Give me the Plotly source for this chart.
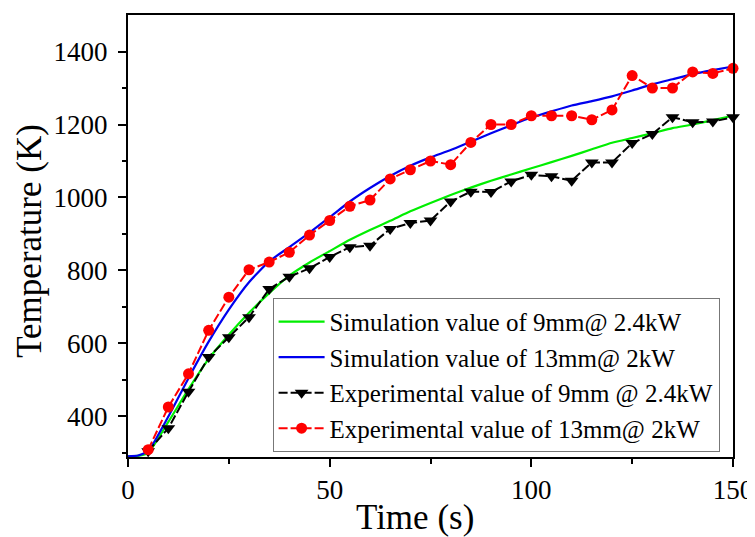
import plotly.graph_objects as go

# Simulation curves
sim_t = [0, 2.5, 5, 10, 15, 20, 25, 30, 35, 40, 45, 50, 55, 60, 65, 70, 75, 80, 85, 90,
         95, 100, 105, 110, 115, 120, 125, 130, 135, 140, 145, 150]
sim_9mm = [291, 292, 300, 385, 475, 558, 624, 684, 738, 786, 822, 853, 884, 911, 936, 962,
           985, 1007, 1027, 1046, 1063, 1080, 1097, 1114, 1132, 1150, 1163, 1176, 1190, 1200, 1212, 1224]
sim_13mm = [291, 293, 305, 400, 505, 605, 693, 768, 825, 864, 904, 946, 989, 1026, 1059, 1087,
            1110, 1130, 1153, 1176, 1198, 1219, 1236, 1252, 1264, 1277, 1293, 1310, 1324, 1338, 1349, 1359]

# Experimental values
exp_t = [5, 10, 15, 20, 25, 30, 35, 40, 45, 50, 55, 60, 65, 70, 75, 80, 85, 90, 95, 100,
         105, 110, 115, 120, 125, 130, 135, 140, 145, 150]
exp_9mm = [305, 368, 468, 563, 617, 672, 749, 783, 806, 837, 864, 868, 914, 930, 937, 989,
           1016, 1015, 1044, 1062, 1058, 1046, 1096, 1096, 1149, 1174, 1220, 1206, 1208, 1220]
exp_13mm = [309, 426, 517, 636, 727, 802, 823, 850, 897, 937, 976, 993, 1051, 1076, 1100, 1090,
            1151, 1200, 1200, 1224, 1224, 1224, 1213, 1240, 1334, 1300, 1300, 1344, 1340, 1354]

names = ["Simulation value of 9mm@ 2.4kW", "Simulation value of 13mm@ 2kW",
         "Experimental value of 9mm @ 2.4kW", "Experimental value of 13mm@ 2kW"]
x_title = "Time (s)"
y_title = "Temperature (K)"

font = "Liberation Serif, Times New Roman, serif"

fig = go.Figure()
fig.add_trace(go.Scatter(x=sim_t, y=sim_9mm, mode="lines", name=names[0],
                         line=dict(color="#00ee00", width=2.2, shape="spline", smoothing=0.5)))
fig.add_trace(go.Scatter(x=sim_t, y=sim_13mm, mode="lines", name=names[1],
                         line=dict(color="#0000ee", width=2.2, shape="spline", smoothing=0.5)))
fig.add_trace(go.Scatter(x=exp_t, y=exp_9mm, mode="lines+markers", name=names[2],
                         line=dict(color="black", width=2, dash="9px,3px"),
                         marker=dict(symbol="triangle-down", size=12, color="black"),
                         cliponaxis=False))
fig.add_trace(go.Scatter(x=exp_t, y=exp_13mm, mode="lines+markers", name=names[3],
                         line=dict(color="#ff0000", width=2, dash="9px,3px"),
                         marker=dict(symbol="circle", size=11, color="#ff0000"),
                         cliponaxis=False))

axis_common = dict(showline=True, linecolor="black", linewidth=2, mirror=True,
                   ticks="outside", ticklen=8, tickwidth=2, tickcolor="black",
                   showgrid=False, zeroline=False, automargin=False,
                   tickfont=dict(family=font, size=27, color="black"))

fig.update_xaxes(range=[0, 150], tickvals=[0, 50, 100, 150],
                 minor=dict(tickvals=[25, 75, 125], ticks="outside", ticklen=5, tickwidth=2, tickcolor="black"),
                 ticklabelstandoff=0,
                 **axis_common)
fig.update_yaxes(range=[289, 1500], tickvals=[400, 600, 800, 1000, 1200, 1400],
                 minor=dict(tickvals=[300, 500, 700, 900, 1100, 1300], ticks="outside", ticklen=4,
                            tickwidth=2, tickcolor="black"),
                 ticklabelstandoff=5,
                 **axis_common)

fig.add_annotation(text=x_title, xref="paper", yref="paper", x=0.474, y=-0.138,
                   xanchor="center", yanchor="middle", showarrow=False,
                   font=dict(family=font, size=35, color="black"))
fig.add_annotation(text=y_title, xref="paper", yref="paper", x=-0.162, y=0.489,
                   xanchor="center", yanchor="middle", showarrow=False, textangle=-90,
                   font=dict(family=font, size=35, color="black"))

# The page has an 8px body margin, so the figure is sized to fit the 755x537 window
fig.update_layout(
    width=747, height=529,
    margin=dict(l=120, r=22, t=7, b=80),
    paper_bgcolor="white", plot_bgcolor="white",
    font=dict(family=font, color="black"),
    legend=dict(x=0.239, y=0.36, xanchor="left", yanchor="top",
                bgcolor="white", bordercolor="#777777", borderwidth=1,
                font=dict(family=font, size=25, color="black"),
                tracegroupgap=0, itemwidth=46),
    showlegend=True,
)

fig.write_html("out.html")
